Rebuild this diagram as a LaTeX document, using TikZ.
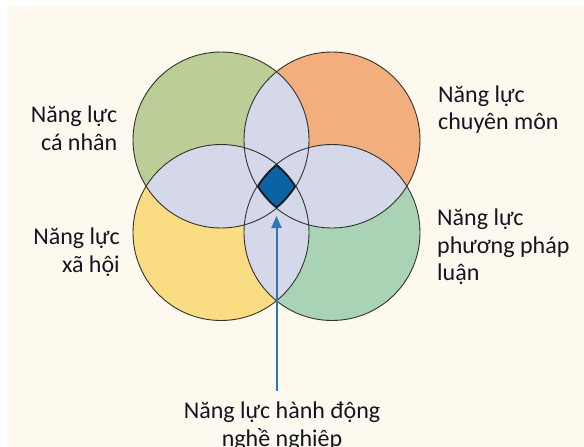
\documentclass[tikz,border=0pt]{standalone}
\usepackage{fontspec}
\setmainfont{Carlito}
\usetikzlibrary{arrows.meta}

\definecolor{paper}{RGB}{253,249,239}
\definecolor{leafgreen}{RGB}{187,206,152}
\definecolor{peach}{RGB}{243,174,126}
\definecolor{sand}{RGB}{250,221,130}
\definecolor{mint}{RGB}{168,211,181}
\definecolor{lilac}{RGB}{212,216,232}
\definecolor{deepblue}{RGB}{11,99,163}
\definecolor{arrowblue}{RGB}{46,117,182}
\definecolor{ringgray}{RGB}{50,50,50}
\definecolor{inkblack}{RGB}{20,20,35}

\tikzset{
  ringline/.style={draw=ringgray, line width=0.9pt},
  skilltext/.style={font=\fontsize{24}{27.5}\selectfont, text=inkblack, inner sep=0pt},
  pointer/.style={arrowblue, line width=2pt, -{Triangle[length=12pt,width=10pt]}}
}

\begin{document}
\begin{tikzpicture}[x=1pt,y=-1pt]
  \useasboundingbox (0,0) rectangle (584,447);
  \fill[white] (0,0) rectangle (584,447);
  \fill[paper] (7,7) rectangle (584,447);

  % circle centres
  \coordinate (TL) at (221,140);
  \coordinate (TR) at (332,140);
  \coordinate (BL) at (221,232.5);
  \coordinate (BR) at (332,232.5);
  \coordinate (tip) at (276.5,216);
  \def\rad{88pt}

  % the four circles
  \fill[leafgreen] (TL) circle[radius=\rad];
  \fill[peach] (TR) circle[radius=\rad];
  \fill[sand] (BL) circle[radius=\rad];
  \fill[mint] (BR) circle[radius=\rad];

  % overlaps
  \begin{scope}
    \clip (TL) circle[radius=\rad];
    \fill[lilac] (TR) circle[radius=\rad] (BL) circle[radius=\rad] (BR) circle[radius=\rad];
  \end{scope}
  \begin{scope}
    \clip (TR) circle[radius=\rad];
    \fill[lilac] (BL) circle[radius=\rad] (BR) circle[radius=\rad];
  \end{scope}
  \begin{scope}
    \clip (BL) circle[radius=\rad];
    \fill[lilac] (BR) circle[radius=\rad];
  \end{scope}

  % centre where all four meet
  \begin{scope}
    \clip (TL) circle[radius=\rad];
    \clip (TR) circle[radius=\rad];
    \clip (BL) circle[radius=\rad];
    \clip (BR) circle[radius=\rad];
    \fill[deepblue] (200,120) rectangle (350,250);
    \draw[black, line width=2.6pt] (TL) circle[radius=\rad] (TR) circle[radius=\rad]
      (BL) circle[radius=\rad] (BR) circle[radius=\rad];
  \end{scope}

  \draw[ringline] (TL) circle[radius=\rad];
  \draw[ringline] (TR) circle[radius=\rad];
  \draw[ringline] (BL) circle[radius=\rad];
  \draw[ringline] (BR) circle[radius=\rad];

  % labels
  \node[skilltext, align=right, anchor=north east] (personal) at (117.5,106) {Năng lực\\cá nhân};
  \node[skilltext, align=right, anchor=north east] (social) at (120,228) {Năng lực\\xã hội};
  \node[skilltext, align=left, anchor=north west] (expert) at (438,85.5) {Năng lực\\chuyên môn};
  \node[skilltext, align=left, anchor=north west] (method) at (437,209) {Năng lực\\phương pháp\\luận};
  \node[skilltext, align=center, anchor=north] (action) at (282,402) {Năng lực hành động\\nghề nghiệp};

  \draw[pointer, shorten <=11pt] (action.north -| tip) -- (tip);
\end{tikzpicture}
\end{document}
